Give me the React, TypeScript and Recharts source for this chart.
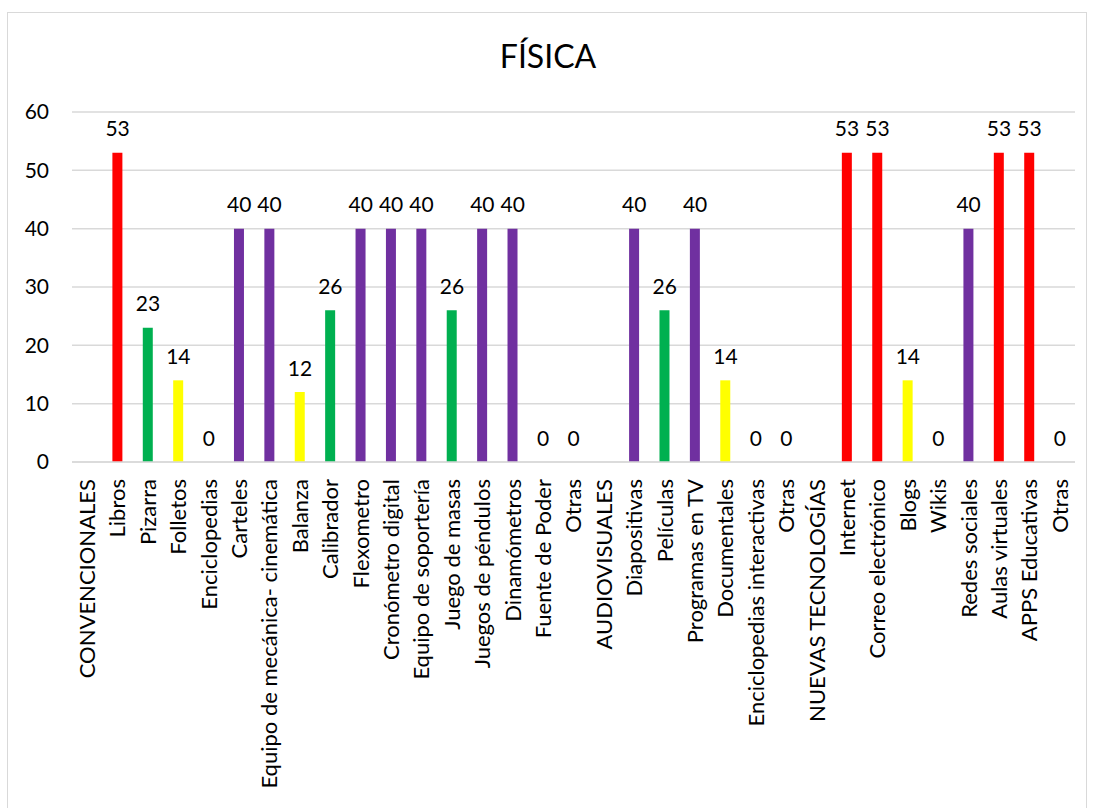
import { ComposedChart, Bar, Line, XAxis, YAxis, CartesianGrid, Cell } from "recharts";

const categories = [
  "CONVENCIONALES", "Libros", "Pizarra", "Folletos", "Enciclopedias", "Carteles",
  "Equipo de mecánica- cinemática", "Balanza", "Calibrador", "Flexometro",
  "Cronómetro digital", "Equipo de soportería", "Juego de masas", "Juegos de péndulos",
  "Dinamómetros", "Fuente de Poder", "Otras", "AUDIOVISUALES", "Diapositivas",
  "Películas", "Programas en TV", "Documentales", "Enciclopedias interactivas", "Otras",
  "NUEVAS TECNOLOGÍAS", "Internet", "Correo electrónico", "Blogs", "Wikis",
  "Redes sociales", "Aulas  virtuales", "APPS Educativas", "Otras",
];

const values: (number | null)[] = [
  null, 53, 23, 14, 0, 40,
  40, 12, 26, 40,
  40, 40, 26, 40,
  40, 0, 0, null, 40,
  26, 40, 14, 0, 0,
  null, 53, 53, 14, 0,
  40, 53, 53, 0,
];

const barColors = [
  "#FF0000", "#FF0000", "#00B050", "#FFFF00", "#FFFF00", "#7030A0",
  "#7030A0", "#FFFF00", "#00B050", "#7030A0",
  "#7030A0", "#7030A0", "#00B050", "#7030A0",
  "#7030A0", "#7030A0", "#7030A0", "#7030A0", "#7030A0",
  "#00B050", "#7030A0", "#FFFF00", "#7030A0", "#7030A0",
  "#FF0000", "#FF0000", "#FF0000", "#FFFF00", "#FFFF00",
  "#7030A0", "#FF0000", "#FF0000", "#FF0000",
];

const yTicks = [0, 10, 20, 30, 40, 50, 60];

const data = categories.map((name, i) => ({ key: i, name, value: values[i] }));

const FONT = "Lato, 'Open Sans', sans-serif";

function CategoryTick(props: any) {
  const { x, y, payload } = props;
  return (
    <text
      x={x}
      y={y}
      transform={`rotate(-90, ${x}, ${y})`}
      textAnchor="end"
      dy="0.36em"
      fontSize={22}
      fill="#000"
      fontFamily={FONT}
    >
      {categories[payload.value]}
    </text>
  );
}

function ValueLabel(props: any) {
  const { x, y, value } = props;
  if (value === null || value === undefined) return null;
  return (
    <text x={x} y={y - 24} textAnchor="middle" dy="0.36em" fontSize={21} fill="#000" fontFamily={FONT}>
      {value}
    </text>
  );
}

export default function App() {
  return (
    <div style={{ position: "absolute", left: 0, top: 0, width: 1093, height: 808, background: "#fff", overflow: "hidden" }}>
      <div
        style={{
          position: "absolute", left: 7, top: 12, width: 1080, height: 810,
          border: "1px solid #d9d9d9", boxSizing: "border-box",
        }}
      />
      <div
        style={{
          position: "absolute", left: 0, top: 36, width: 1096, textAlign: "center",
          fontFamily: FONT, fontSize: 32, color: "#000", lineHeight: "40px",
        }}
      >
        FÍSICA
      </div>
      <div style={{ position: "absolute", left: 0, top: 0 }}>
        <ComposedChart width={1093} height={808} data={data} margin={{ top: 112, right: 18, left: 0, bottom: 0 }}>
          <CartesianGrid vertical={false} stroke="#d9d9d9" strokeWidth={1.5} />
          <XAxis
            dataKey="key"
            interval={0}
            height={346}
            axisLine={{ stroke: "#d9d9d9", strokeWidth: 1.5 }}
            tickLine={false}
            tickSize={0}
            tickMargin={17}
            tick={<CategoryTick />}
          />
          <YAxis
            domain={[0, 60]}
            ticks={yTicks}
            width={72}
            axisLine={false}
            tickLine={false}
            tickSize={0}
            tickMargin={23}
            tick={{ fontSize: 21, fill: "#000", fontFamily: FONT }}
          />
          <Bar dataKey="value" barSize={10} isAnimationActive={false}>
            {data.map((d) => (
              <Cell key={d.key} fill={barColors[d.key]} />
            ))}
          </Bar>
          <Line
            dataKey="value"
            stroke="none"
            dot={false}
            activeDot={false}
            legendType="none"
            isAnimationActive={false}
            label={<ValueLabel />}
          />
        </ComposedChart>
      </div>
    </div>
  );
}
